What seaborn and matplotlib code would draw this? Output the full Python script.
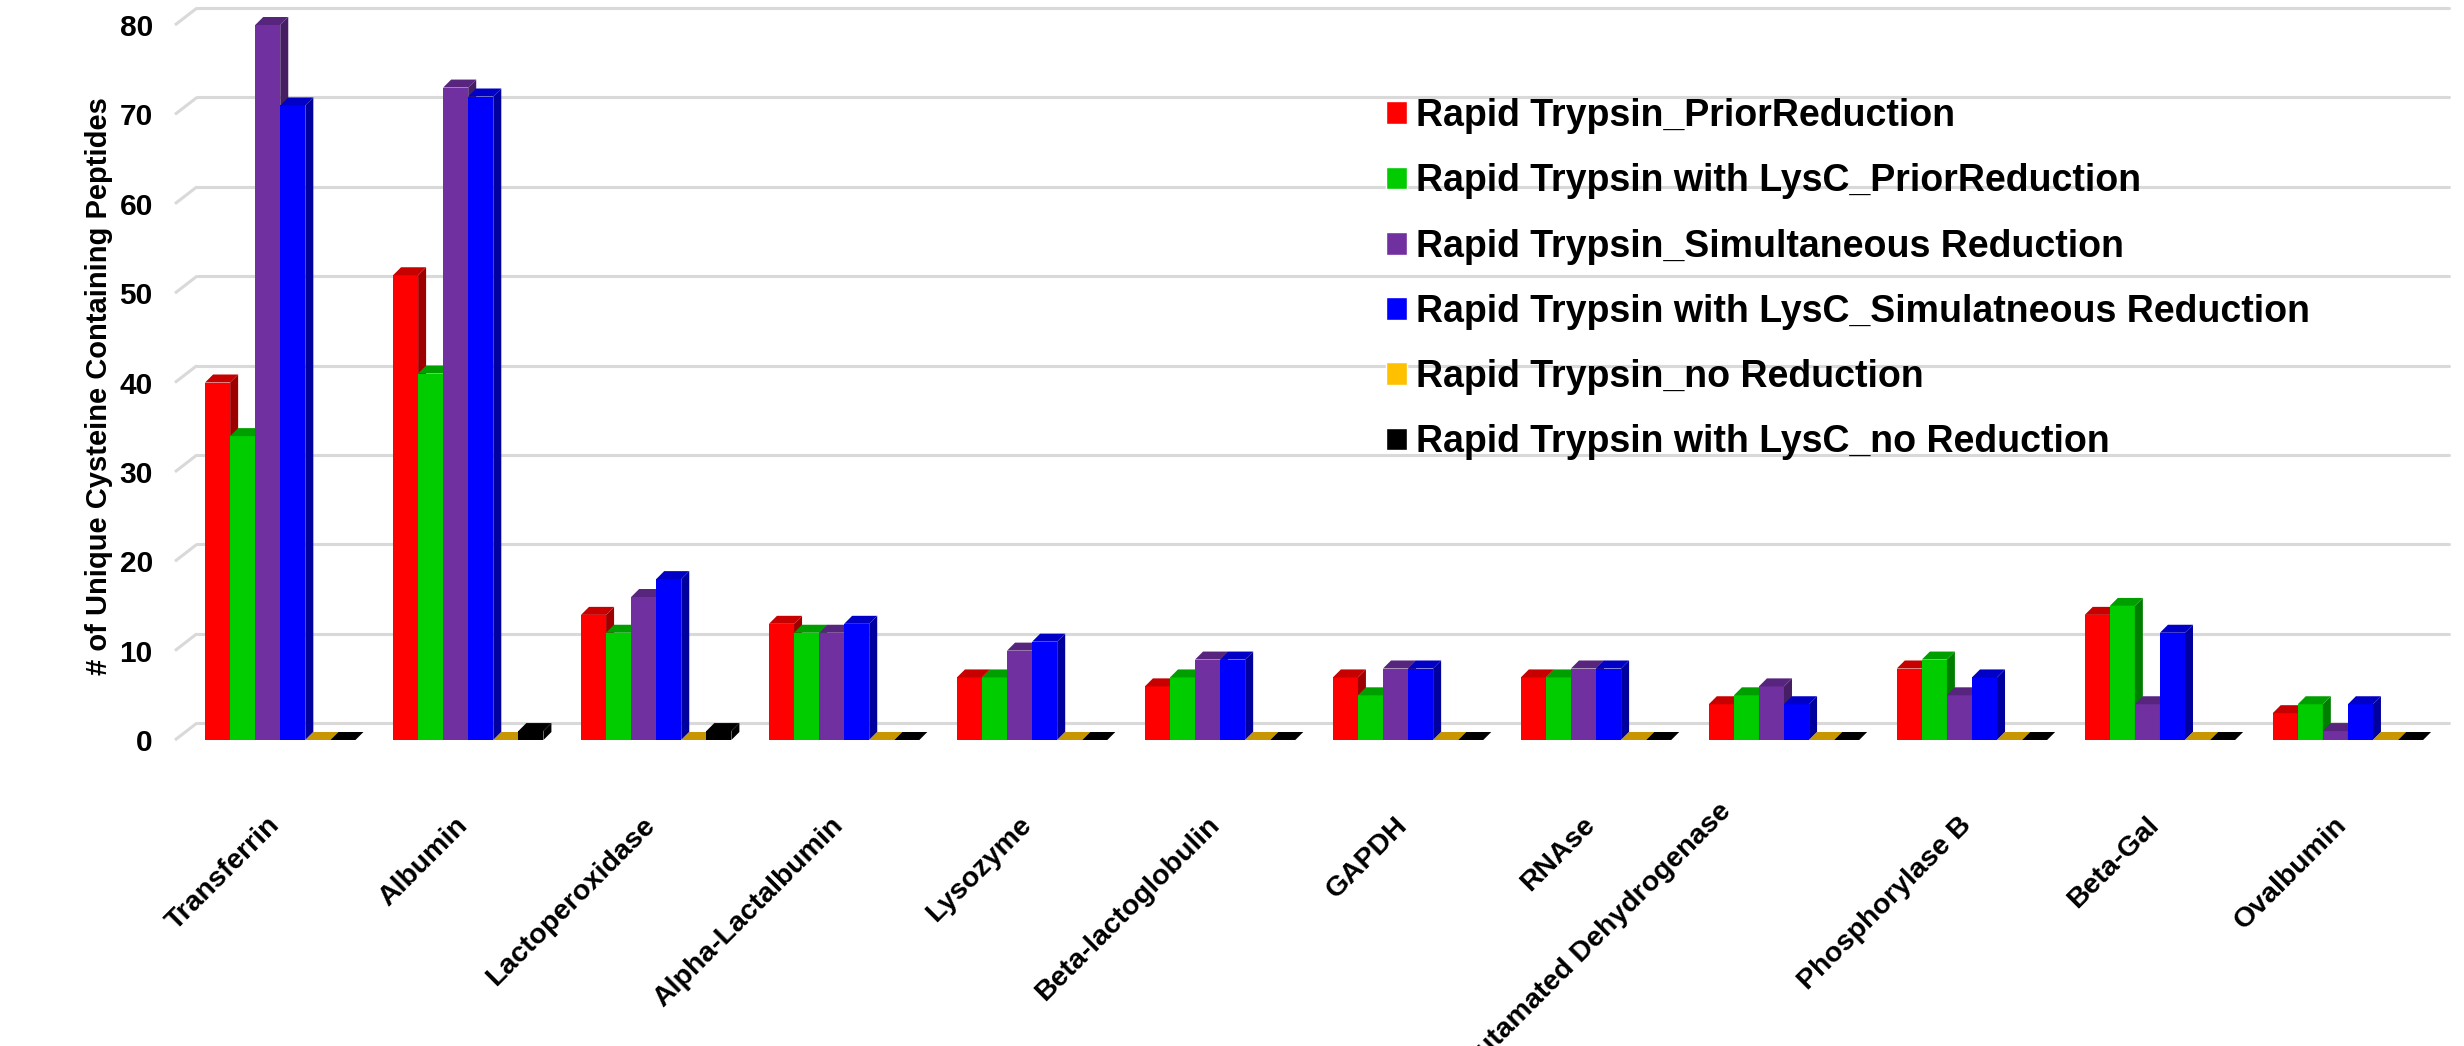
import numpy as np
import pandas as pd
import matplotlib
matplotlib.use("Agg")
import matplotlib.pyplot as plt
from matplotlib.patches import Polygon
from matplotlib.colors import to_rgb
from matplotlib.transforms import ScaledTranslation
import seaborn as sns

proteins = ["Transferrin", "Albumin", "Lactoperoxidase", "Alpha-Lactalbumin", "Lysozyme",
            "Beta-lactoglobulin", "GAPDH", "RNAse", "Glutamated Dehydrogenase",
            "Phosphorylase B", "Beta-Gal", "Ovalbumin"]
series_names = ["Rapid Trypsin_PriorReduction",
                "Rapid Trypsin with LysC_PriorReduction",
                "Rapid Trypsin_Simultaneous Reduction",
                "Rapid Trypsin with LysC_Simulatneous Reduction",
                "Rapid Trypsin_no Reduction",
                "Rapid Trypsin with LysC_no Reduction"]
trypsin_prior = [40, 52, 14, 13, 7, 6, 7, 7, 4, 8, 14, 3]
lysc_prior = [34, 41, 12, 12, 7, 7, 5, 7, 5, 9, 15, 4]
trypsin_simul = [80, 73, 16, 12, 10, 9, 8, 8, 6, 5, 4, 1]
lysc_simul = [71, 72, 18, 13, 11, 9, 8, 8, 4, 7, 12, 4]
trypsin_none = [0, 0, 0, 0, 0, 0, 0, 0, 0, 0, 0, 0]
lysc_none = [0, 1, 1, 0, 0, 0, 0, 0, 0, 0, 0, 0]
colors = ["#FF0000", "#00CC00", "#7030A0", "#0000FF", "#FFC000", "#000000"]
yticks = [0, 10, 20, 30, 40, 50, 60, 70, 80]

all_series = [trypsin_prior, lysc_prior, trypsin_simul, lysc_simul, trypsin_none, lysc_none]
rows = []
for name, vals in zip(series_names, all_series):
    for p, v in zip(proteins, vals):
        rows.append({"protein": p, "count": v, "series": name})
df = pd.DataFrame(rows)

sns.set_style("white")
plt.rcParams["font.family"] = ["Liberation Sans", "DejaVu Sans"]
plt.rcParams["font.weight"] = "bold"
plt.rcParams["text.color"] = "black"
plt.rcParams["xtick.color"] = "black"
plt.rcParams["ytick.color"] = "black"
plt.rcParams["axes.labelcolor"] = "black"

W, H = 2464, 1046
fig = plt.figure(figsize=(W / 100, H / 100), dpi=100)
ax_l, ax_r, ax_t, ax_b = 175, 2440, 25, 740
ax = fig.add_axes([ax_l / W, 1 - ax_b / H, (ax_r - ax_l) / W, (ax_b - ax_t) / H])

sns.barplot(data=df, x="protein", y="count", hue="series", hue_order=series_names,
            palette=colors, saturation=1, width=0.8, ax=ax, legend=True)

ax.set_xlim(-0.56, 11.49)
ax.set_ylim(0, 80)
for s in ax.spines.values():
    s.set_visible(False)
ax.grid(False)

# pixel -> data conversions
px_x = (ax_r - ax_l) / (11.49 + 0.56)
px_y = (ax_b - ax_t) / 80.0
d = 8
ddx, ddy = d / px_x, d / px_y

# back-wall gridlines with perspective diagonal
gx, gy = 22 / (ax_r - ax_l), 17 / px_y
for v in yticks:
    ax.plot([0, gx], [v, v + gy], color="#D9D9D9", lw=2.2, transform=ax.get_yaxis_transform(),
            zorder=0, clip_on=False, solid_capstyle="butt")
    ax.plot([gx, 1.004], [v + gy, v + gy], color="#D9D9D9", lw=2.2,
            transform=ax.get_yaxis_transform(), zorder=0, clip_on=False)

def shade(c, f):
    r, g, b = to_rgb(c)
    return (r * f, g * f, b * f)

for j, cont in enumerate(ax.containers):
    base = 2 + j
    for patch in cont:
        patch.set_zorder(base)
        patch.set_edgecolor("none")
        patch.set_clip_on(False)
        x0 = patch.get_x()
        w = patch.get_width()
        h = patch.get_height()
        x1 = x0 + w
        col = colors[j]
        side = Polygon([(x1, 0), (x1 + ddx, ddy), (x1 + ddx, h + ddy), (x1, h)],
                       closed=True, facecolor=shade(col, 0.62), edgecolor="none",
                       zorder=base + 0.5, clip_on=False)
        top = Polygon([(x0, h), (x1, h), (x1 + ddx, h + ddy), (x0 + ddx, h + ddy)],
                      closed=True, facecolor=shade(col, 0.78), edgecolor="none",
                      zorder=base + 0.5, clip_on=False)
        ax.add_patch(side)
        ax.add_patch(top)

ax.set_xlabel("")
ax.set_ylabel("# of Unique Cysteine Containing Peptides", fontsize=21, fontweight="bold",
              color="black")
ax.yaxis.set_label_coords((113 - ax_l) / (ax_r - ax_l), (ax_b - 386) / (ax_b - ax_t))
ax.set_yticks(yticks)
ax.set_yticklabels([str(v) for v in yticks], fontsize=21.5, fontweight="bold")
ax.tick_params(axis="y", length=0, pad=16)
ax.tick_params(axis="x", length=0, pad=52)
ax.set_xticks(range(len(proteins)))
ax.set_xticklabels(proteins, fontsize=20.5, fontweight="bold", rotation=45, ha="right",
                   rotation_mode="anchor")
for lab in ax.get_xticklabels():
    if lab.get_text() == "Glutamated Dehydrogenase":
        shift = ScaledTranslation(-66 / 100, 14 / 100, fig.dpi_scale_trans)
    else:
        shift = ScaledTranslation(-14 / 100, 0, fig.dpi_scale_trans)
    lab.set_transform(lab.get_transform() + shift)

handles, labels = ax.get_legend_handles_labels()
ax.legend(handles, labels, loc="upper left", bbox_to_anchor=(1386 / W, 1 - 98 / H),
          bbox_transform=fig.transFigure, frameon=False,
          prop={"family": ["Liberation Sans"], "weight": "bold", "size": 27},
          handlelength=0.56, handleheight=0.56, handletextpad=0.25, labelspacing=0.78,
          borderpad=0, borderaxespad=0)

fig.savefig("out.png", dpi=100, facecolor="white")
